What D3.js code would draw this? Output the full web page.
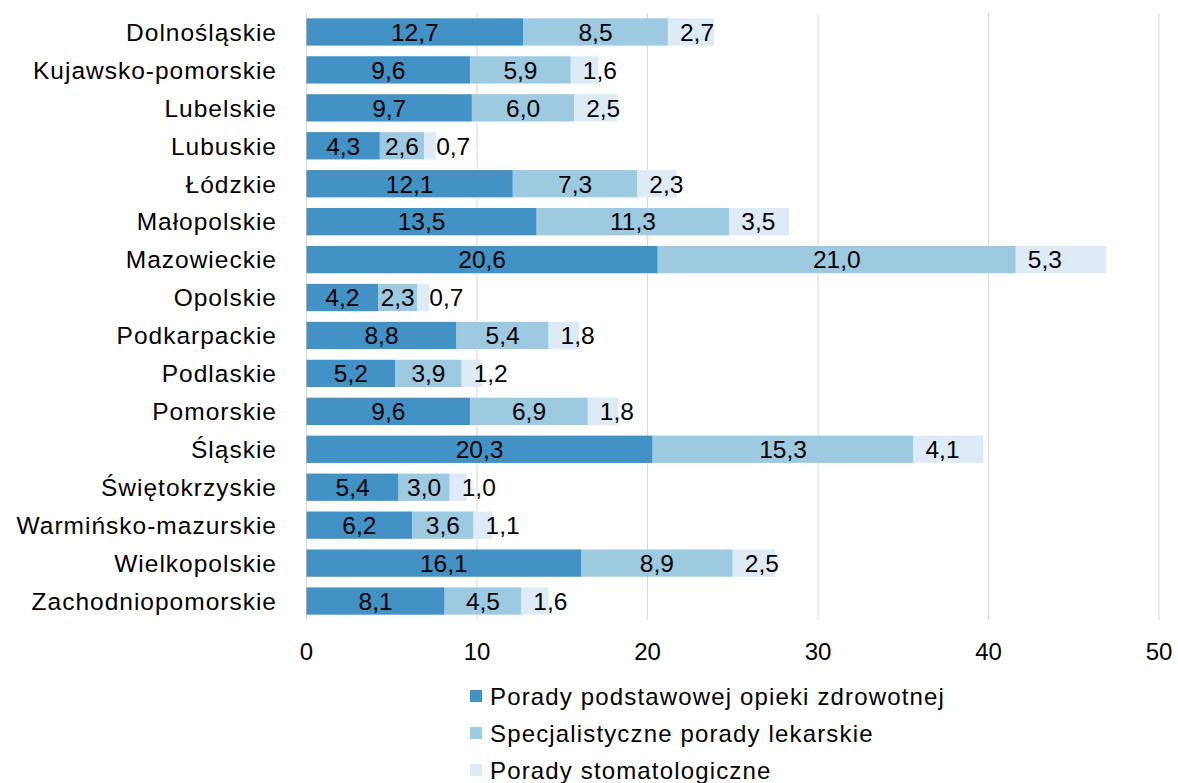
<!DOCTYPE html>
<html>
<head>
<meta charset="utf-8">
<script src="https://cdn.jsdelivr.net/npm/d3@7"></script>
<style>
  body { margin: 0; background: #fff; }
  text { font-family: "Liberation Sans", Arial, sans-serif; fill: #000; }
</style>
</head>
<body>
<svg id="chart" width="1178" height="783"></svg>
<script>
// regions (województwa)
var regions = ["Dolnośląskie", "Kujawsko-pomorskie", "Lubelskie", "Lubuskie", "Łódzkie",
  "Małopolskie", "Mazowieckie", "Opolskie", "Podkarpackie", "Podlaskie", "Pomorskie",
  "Śląskie", "Świętokrzyskie", "Warmińsko-mazurskie", "Wielkopolskie", "Zachodniopomorskie"];

var seriesNames = ["Porady podstawowej opieki zdrowotnej", "Specjalistyczne porady lekarskie", "Porady stomatologiczne"];

var poz = [12.7, 9.6, 9.7, 4.3, 12.1, 13.5, 20.6, 4.2, 8.8, 5.2, 9.6, 20.3, 5.4, 6.2, 16.1, 8.1];
var specjalistyczne = [8.5, 5.9, 6.0, 2.6, 7.3, 11.3, 21.0, 2.3, 5.4, 3.9, 6.9, 15.3, 3.0, 3.6, 8.9, 4.5];
var stomatologiczne = [2.7, 1.6, 2.5, 0.7, 2.3, 3.5, 5.3, 0.7, 1.8, 1.2, 1.8, 4.1, 1.0, 1.1, 2.5, 1.6];

var xTicks = [0, 10, 20, 30, 40, 50];
var colors = ["#4292c6", "#9ecae1", "#deebf7"];

var svg = d3.select("#chart");
var fmt = d => d.toFixed(1).replace(".", ",");

var x = d3.scaleLinear().domain([0, 50]).range([306.5, 1159]);
var y = d3.scaleBand().domain(regions).range([13, 620]).paddingInner(0.28).paddingOuter(0.14);

// table for stacking
var table = regions.map((r, i) => ({region: r, a: poz[i], b: specjalistyczne[i], c: stomatologiczne[i]}));
var stacked = d3.stack().keys(["a", "b", "c"])(table);

// gridlines
svg.append("g").selectAll("line")
  .data(xTicks)
  .enter().append("line")
    .attr("x1", d => x(d)).attr("x2", d => x(d))
    .attr("y1", 13).attr("y2", 620)
    .attr("stroke", "#d9d9d9")
    .attr("stroke-width", 1);

// x tick labels
svg.append("g").selectAll("text")
  .data(xTicks)
  .enter().append("text")
    .attr("x", d => x(d))
    .attr("y", 660)
    .attr("text-anchor", "middle")
    .style("font-size", "24px")
    .text(d => d);

// category labels
svg.append("g").selectAll("text")
  .data(regions)
  .enter().append("text")
    .attr("x", 277)
    .attr("y", d => y(d) + y.bandwidth() / 2)
    .attr("dy", "0.36em")
    .attr("text-anchor", "end")
    .style("font-size", "24.5px")
    .style("letter-spacing", "1px")
    .text(d => d);

// bars
var layers = svg.append("g").selectAll("g")
  .data(stacked)
  .enter().append("g")
    .attr("fill", (d, i) => colors[i]);

layers.selectAll("rect")
  .data(d => d)
  .enter().append("rect")
    .attr("x", d => x(d[0]))
    .attr("y", d => y(d.data.region))
    .attr("width", d => x(d[1]) - x(d[0]))
    .attr("height", y.bandwidth());

// value labels: first two centered, third from segment start
layers.each(function(layer, li) {
  d3.select(this).selectAll("text")
    .data(layer)
    .enter().append("text")
      .attr("x", d => li < 2 ? (x(d[0]) + x(d[1])) / 2 : x(d[0]) + 12)
      .attr("y", d => y(d.data.region) + y.bandwidth() / 2)
      .attr("dy", "0.36em")
      .attr("text-anchor", li < 2 ? "middle" : "start")
      .style("font-size", "24.5px")
      .text(d => fmt(d[1] - d[0]));
});

// legend
var legend = svg.append("g").selectAll("g")
  .data(seriesNames)
  .enter().append("g")
    .attr("transform", (d, i) => "translate(470," + (690 + i * 37) + ")");

legend.append("rect")
  .attr("width", 12).attr("height", 12)
  .attr("fill", (d, i) => colors[i]);

legend.append("text")
  .attr("x", 20)
  .attr("y", 6)
  .attr("dy", "0.36em")
  .style("font-size", "24px")
  .style("letter-spacing", "1.15px")
  .text(d => d);
</script>
</body>
</html>
